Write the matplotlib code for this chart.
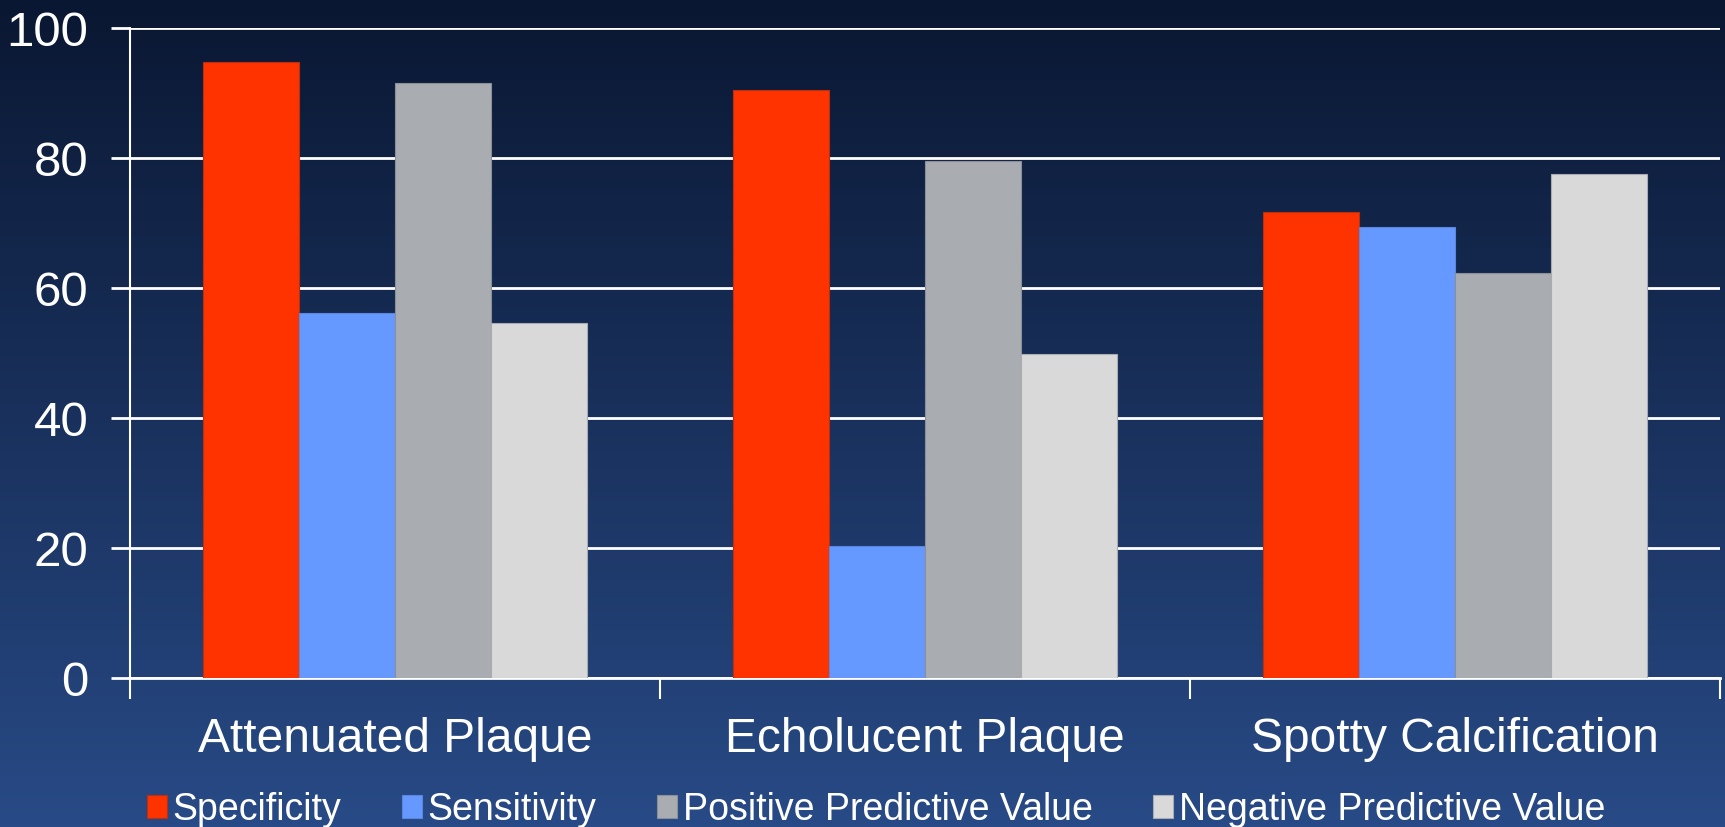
import matplotlib.pyplot as plt
import numpy as np

categories = ['Attenuated Plaque', 'Echolucent Plaque', 'Spotty Calcification']
series_names = ['Specificity', 'Sensitivity', 'Positive Predictive Value', 'Negative Predictive Value']
specificity = [94.8, 90.4, 71.7]
sensitivity = [56.2, 20.4, 69.4]
ppv = [91.5, 79.5, 62.4]
npv = [54.6, 49.8, 77.5]
y_ticks = [0, 20, 40, 60, 80, 100]

series = [specificity, sensitivity, ppv, npv]
colors = ['#FF3300', '#6699FF', '#A9ACB1', '#D9D9D9']
edges = ['#B8300F', '#5A86E0', '#8A8F98', '#A9ACB1']

plt.rcParams['font.family'] = ['Liberation Sans', 'DejaVu Sans']

fig = plt.figure(figsize=(17.25, 8.27), dpi=100)

# background gradient (dark navy at top -> lighter blue at bottom)
bg = fig.add_axes([0, 0, 1, 1], zorder=-1)
top = np.array([10, 23, 50]) / 255
bottom = np.array([40, 74, 134]) / 255
t = np.linspace(0, 1, 256)[:, None]
grad = top * (1 - t) + bottom * t
bg.imshow(grad[:, None, :], aspect='auto', extent=[0, 1, 0, 1])
bg.axis('off')

ax = fig.add_axes([0.0754, 0.1798, 0.9217, 0.7863])
ax.patch.set_alpha(0)

x = np.arange(len(categories))
w = 0.181
for i, (vals, c, e, name) in enumerate(zip(series, colors, edges, series_names)):
    ax.bar(x + (i - 1.5) * w, vals, width=w, color=c, edgecolor=e, linewidth=0.8, label=name, zorder=3)

ax.set_xlim(-0.5, 2.5)
ax.set_ylim(0, 100)
ax.set_yticks(y_ticks)
ax.yaxis.grid(True, color='white', linewidth=2)
ax.set_axisbelow(True)

# category boundaries as major ticks, labels on minor ticks at the centers
ax.set_xticks([-0.5, 0.5, 1.5, 2.5])
ax.set_xticklabels([])
ax.set_xticks(x, minor=True)
ax.set_xticklabels(categories, minor=True)
ax.tick_params(axis='x', which='major', length=15, width=1.5, color='white', direction='out')
ax.tick_params(axis='x', which='minor', length=0, pad=28, labelsize=34.5, labelcolor='white')
ax.tick_params(axis='y', length=14, width=2, color='white', pad=16, labelsize=35.5, labelcolor='white')

for s in ['top', 'right']:
    ax.spines[s].set_visible(False)
ax.spines['left'].set_color('white')
ax.spines['left'].set_linewidth(1.5)
ax.spines['bottom'].set_color('white')
ax.spines['bottom'].set_linewidth(2)

leg = fig.legend(loc='center', bbox_to_anchor=(876 / 1725, 1 - 810 / 827), ncol=4, frameon=False,
                 fontsize=27, handlelength=0.55, handleheight=0.55, handletextpad=0.15,
                 columnspacing=1.6, labelcolor='white')

fig.savefig('out.png', dpi=100)
